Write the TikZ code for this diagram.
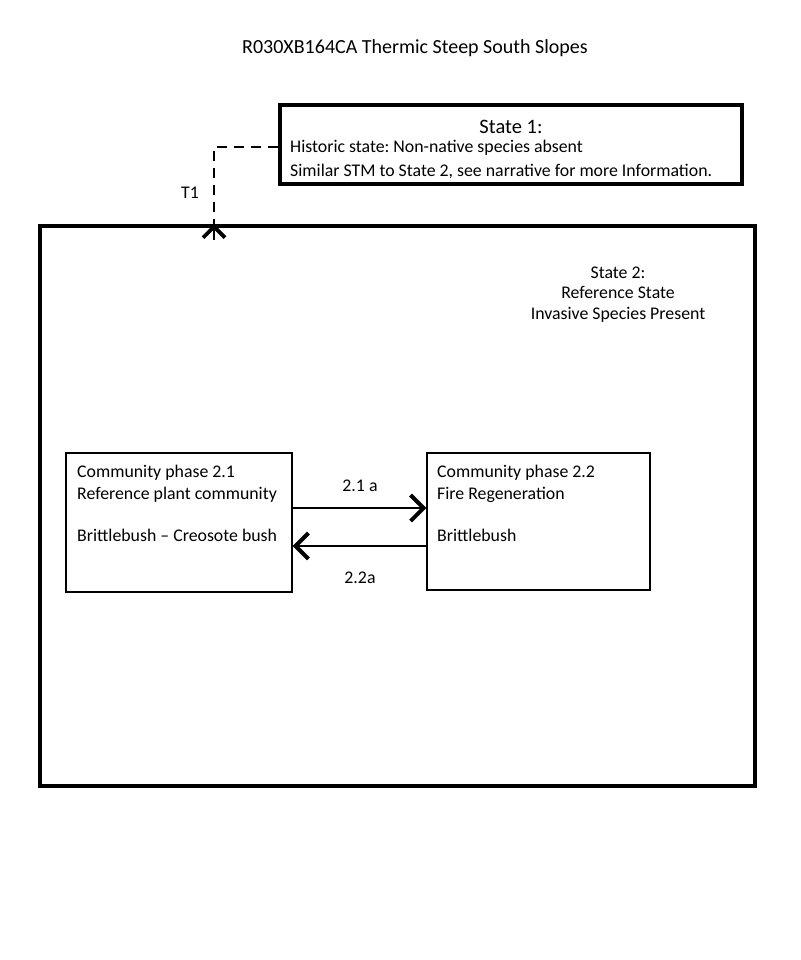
\documentclass[tikz,border=0pt]{standalone}
\usepackage{fontspec}
\setmainfont{Carlito}
\usetikzlibrary{arrows.meta}
\frenchspacing
\begin{document}
\begin{tikzpicture}[x=1pt,y=-1pt,
  statebox/.style={draw,line width=3.5pt},
  phasebox/.style={draw,line width=1.2pt},
  txt/.style={font=\fontsize{17.8}{21}\selectfont,inner sep=0pt},
  tipstyle/.style={-{Straight Barb[length=13pt,width=26pt,line width=4pt]}},
  conn/.style={line width=1.4pt,tipstyle},
]
\useasboundingbox (0,0) rectangle (800,960);
\node[font=\fontsize{20}{24}\selectfont,inner sep=0pt,anchor=base] (title) at (415,54) {R030XB164CA Thermic Steep South Slopes};
% State 1
\node[statebox,minimum width=462pt,minimum height=79pt,inner sep=0pt] (s1) at (511,144.5) {};
\node[font=\fontsize{20.5}{24}\selectfont,inner sep=0pt,anchor=base] (s1t) at (511,134) {State 1:};
\node[txt,anchor=base west] (s1a) at (290,152.5) {Historic state: Non-native species absent};
\node[txt,anchor=base west] (s1b) at (290,176.5) {Similar STM to State 2, see narrative for more Information.};
% State 2
\node[statebox,minimum width=715pt,minimum height=560pt,inner sep=0pt] (s2) at (397.5,506) {};
\node[txt,anchor=base] (s2a) at (618,278.5) {State 2:};
\node[txt,anchor=base] (s2b) at (618,298.5) {Reference State};
\node[txt,anchor=base] (s2c) at (618,319.5) {Invasive Species Present};
% T1
\coordinate (c1) at (214,147);
\coordinate (t1end) at (214,224);
\draw[line width=1.4pt,dash pattern=on 10pt off 7pt] (s1.west|-c1) -- (c1) -- ([yshift=-16pt]t1end);
\draw[line width=1.4pt,-{Straight Barb[length=11pt,width=22pt,line width=3.8pt]}] ([yshift=-16pt]t1end) -- (t1end);
\node[txt,anchor=base] (t1) at (190,198.5) {T1};
% phases
\node[phasebox,minimum width=226pt,minimum height=139pt,inner sep=0pt] (p1) at (179,522.5) {};
\node[txt,anchor=base west] (p1a) at (77,477) {Community phase 2.1};
\node[txt,anchor=base west] (p1b) at (77,499) {Reference plant community};
\node[txt,anchor=base west] (p1c) at (77,541) {Brittlebush -- Creosote bush};
\node[phasebox,minimum width=223pt,minimum height=137pt,inner sep=0pt] (p2) at (538.5,521.5) {};
\node[txt,anchor=base west] (p2a) at (437,477) {Community phase 2.2};
\node[txt,anchor=base west] (p2b) at (437,499) {Fire Regeneration};
\node[txt,anchor=base west] (p2c) at (437,541) {Brittlebush};
% transitions
\coordinate (a1) at (0,508);
\coordinate (a2) at (0,546);
\draw[conn] (p1.east|-a1) -- (p2.west|-a1);
\draw[conn] (p2.west|-a2) -- (p1.east|-a2);
\node[txt,anchor=base] (l1) at (360,491.5) {2.1 a};
\node[txt,anchor=base] (l2) at (360,583.5) {2.2a};
\end{tikzpicture}
\end{document}
